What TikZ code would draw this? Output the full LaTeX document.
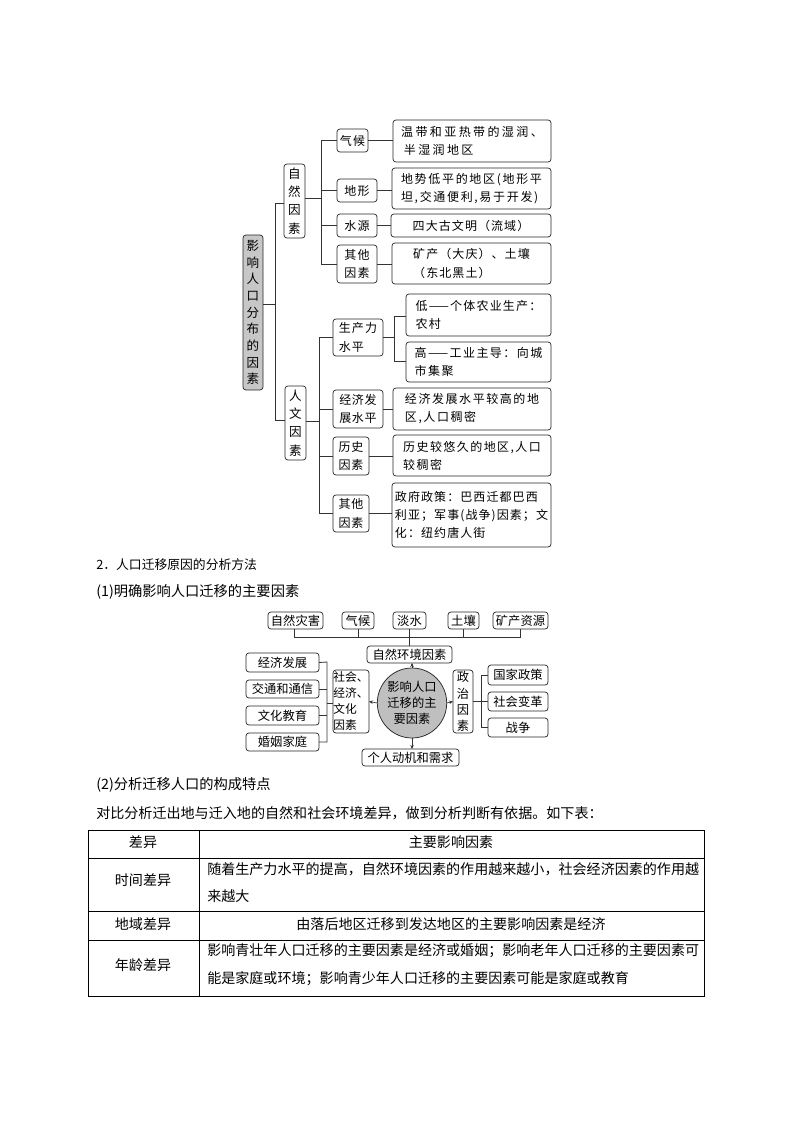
\documentclass[tikz,border=0pt]{standalone}
\usepackage{fontspec}
\setmainfont{Noto Sans CJK SC}
\usetikzlibrary{arrows.meta,shapes.geometric}
\newcommand\ls[1]{\addfontfeature{LetterSpace=#1}}
\newcommand\bx[7][]{%
  \pgfmathsetmacro\bw{(#5-#3)*0.75}\pgfmathsetmacro\bh{(#6-#4)*0.75}%
  \node[boxn,minimum width=\bw pt,minimum height=\bh pt,#1] (#2) at ({(#3+#5)/2},{(#4+#6)/2}) {#7};}
\tikzset{
  boxn/.style={draw=black!85,rounded corners=2.2pt,line width=.55pt,inner sep=0pt,outer sep=0pt,align=center,font=\fontsize{9}{14}\selectfont},
  vert/.style={font=\fontsize{9.4}{13.7}\selectfont},
  rootv/.style={font=\fontsize{9.4}{12.5}\selectfont},
  lft/.style={align=left},
  two/.style={font=\fontsize{9}{13.6}\selectfont},
  conn/.style={draw=black!80,line width=.6pt},
  arr/.style={draw=black!80,line width=.5pt,-{Stealth[length=3pt,width=2.6pt]}},
  plain/.style={anchor=west,inner sep=0pt,font=\fontsize{10.55}{14}\selectfont},
  cell/.style={inner sep=0pt,font=\fontsize{10.54}{14}\selectfont},
  sm/.style={font=\fontsize{9.2}{12.2}\selectfont},
  soctext/.style={font=\fontsize{8.8}{12}\selectfont,align=left},
  grid/.style={draw=black,line width=.6pt}
}
\begin{document}
\begin{tikzpicture}[x=0.75pt,y=-0.75pt]
\useasboundingbox (0,0) rectangle (794,1123);
% first tree
\bx[rootv,fill=black!22]{root}{243}{235}{263}{390}{影\\响\\人\\口\\分\\布\\的\\因\\素}
\bx[vert]{zr}{284}{164}{305}{238}{自\\然\\因\\素}
\bx[vert]{rw}{285}{386}{306}{460}{人\\文\\因\\素}
\bx{qh}{337}{129}{368}{152}{\ls{10}气候}
\bx{dx}{337}{179}{377}{202}{\ls{10}地形}
\bx{sy}{337}{214}{377}{237}{\ls{10}水源}
\bx[two]{qt}{337}{245}{377}{283}{\ls{10}其他\\\ls{10}因素}
\bx[two,lft]{qhb}{393}{120}{551}{162}{\ls{20}温带和亚热带的湿润、\\\ \ls{20}半湿润地区}
\bx[two,lft]{dxb}{392}{168}{551}{209}{\ls{14}地势低平的地区(地形平\\\ls{14}坦,交通便利,易于开发)}
\bx{syb}{391}{214}{551}{237}{\ls{9}四大古文明（流域）}
\bx[two,lft]{qtb}{392}{243}{551}{284}{\ls{9}矿产（大庆）、土壤\\\ls{9}（东北黑土）}
\bx[two,lft]{sc}{333}{319}{383}{356}{\ls{10}生产力\\\ls{10}水平}
\bx[two]{jj}{333}{390}{383}{428}{\ls{5}经济发\\\ls{5}展水平}
\bx[two]{ls}{333}{437}{369}{475}{\ls{5}历史\\\ls{5}因素}
\bx[two]{qt2}{333}{495}{369}{532}{\ls{5}其他\\\ls{5}因素}
\bx[two,lft]{di}{406}{294}{551}{336}{\ls{10}低——个体农业生产：\\\ls{10}农村}
\bx[two,lft]{ga}{406}{342}{551}{382}{\ls{12}高——工业主导：向城\\\ls{12}市集聚}
\bx[two,lft]{jjb}{393}{388}{551}{430}{\ls{13}经济发展水平较高的地\\\ls{13}区,人口稠密}
\bx[two,lft]{lsb}{393}{435}{551}{476}{\ls{12}历史较悠久的地区,人口\\\ls{12}较稠密}
\bx[two,lft]{qtb2}{392}{483}{551}{547}{\ls{9}政府政策：巴西迁都巴西\\\ls{9}利亚；军事(战争)因素；文\\\ls{9}化：纽约唐人街}
\coordinate (j1) at (275,304); \coordinate (j1a) at (275,203); \coordinate (j1b) at (275,420);
\draw[conn] (root.east |- j1) -- (j1);
\draw[conn] (zr.west |- j1a) -- (j1a) -- (j1b) -- (rw.west |- j1b);
\coordinate (j2) at (321,198);
\draw[conn] (zr.east |- j2) -- (j2);
\draw[conn] (qh.west) -- (321,140.5) -- (321,264) -- (qt.west);
\draw[conn] (dx.west) -- (321,190.5);
\draw[conn] (sy.west) -- (321,225.5);
\draw[conn] (qh.east) -- (qhb.west |- qh.east);
\draw[conn] (dx.east) -- (dxb.west |- dx.east);
\draw[conn] (sy.east) -- (syb.west);
\draw[conn] (qt.east) -- (qtb.west |- qt.east);
\coordinate (j3) at (319,421);
\draw[conn] (rw.east |- j3) -- (j3);
\draw[conn] (sc.west) -- (319,337.5) -- (319,513.5) -- (qt2.west);
\draw[conn] (jj.west) -- (319,409);
\draw[conn] (ls.west) -- (319,456);
\coordinate (j4) at (394,337.5);
\draw[conn] (sc.east) -- (j4);
\draw[conn] (di.west |- 0,316) -- (394,316) -- (394,361) -- (ga.west |- 0,361);
\draw[conn] (jj.east) -- (jjb.west |- jj.east);
\draw[conn] (ls.east) -- (lsb.west |- ls.east);
\draw[conn] (qt2.east) -- (qtb2.west |- qt2.east);
% headings
\node[plain,font=\fontsize{9.6}{14}\selectfont] (h1) at (96,565) {2．人口迁移原因的分析方法};
\node[plain,font=\fontsize{10.7}{14}\selectfont] (h2) at (96,592) {(1)明确影响人口迁移的主要因素};
% second diagram
\bx[sm]{a1}{268}{612}{323}{629}{自然灾害}
\bx[sm]{a2}{342}{612}{374}{629}{气候}
\bx[sm]{a3}{393}{612}{426}{629}{淡水}
\bx[sm]{a4}{448}{612}{479}{629}{土壤}
\bx[sm]{a5}{493}{612}{548}{629}{矿产资源}
\bx[sm]{nat}{367}{646}{452}{663}{自然环境因素}
\node[draw=black!85,fill=black!25,line width=.55pt,ellipse,minimum width=48pt,minimum height=52.5pt,inner sep=0pt,outer sep=0pt,align=center,sm] (cen) at (412,703) {影响人口\\迁移的主\\要因素};
\bx[soctext]{soc}{333}{670}{369}{733}{社会、\\经济、\\文化\\因素}
\bx[sm]{pol}{453}{670}{473}{733}{政\\治\\因\\素}
\bx[sm]{per}{362}{749}{459}{766}{个人动机和需求}
\bx[sm]{l1}{246}{653}{319}{672}{经济发展}
\bx[sm]{l2}{246}{680}{319}{698}{交通和通信}
\bx[sm]{l3}{246}{706}{319}{725}{文化教育}
\bx[sm]{l4}{246}{733}{319}{751}{婚姻家庭}
\bx[sm]{r1}{488}{665}{548}{685}{国家政策}
\bx[sm]{r2}{488}{692}{548}{711}{社会变革}
\bx[sm]{r3}{488}{718}{548}{737}{战争}
\coordinate (b1) at (294,637); \coordinate (b2) at (520,637); \coordinate (b3) at (410,637);
\draw[conn] (a1.south -| b1) -- (b1) -- (b2) -- (a5.south -| b2);
\draw[conn] (a2.south) -- (a2.south |- b1);
\draw[conn] (a4.south) -- (a4.south |- b1);
\draw[conn] (a3.south) -- (nat.north -| a3.south);
\draw[arr] (cen.north) -- (cen.north |- nat.south);
\draw[arr] (cen.west) -- (soc.east);
\draw[arr] (cen.east) -- (pol.west);
\draw[arr] (cen.south) -- (cen.south |- per.north);
\coordinate (c1) at (327,662); \coordinate (c2) at (327,742);
\draw[conn] (l1.east) -- (c1) -- (c2) -- (l4.east);
\draw[conn] (l2.east) -- (327,689);
\draw[conn] (l3.east) -- (327,715.5);
\draw[conn] (327,703) -- (soc.west |- 0,703);
\coordinate (d1) at (481,675); \coordinate (d2) at (481,727.5);
\draw[conn] (r1.west) -- (d1) -- (d2) -- (r3.west);
\draw[conn] (pol.east) -- (r2.west);
% lower text
\node[plain,font=\fontsize{10.7}{14}\selectfont] (h3) at (96,785) {(2)分析迁移人口的构成特点};
\node[plain] (h4) at (96,813) {对比分析迁出地与迁入地的自然和社会环境差异，做到分析判断有依据。如下表：};
% table
\draw[grid] (88,830) rectangle (704,996);
\draw[grid] (199,830) -- (199,996);
\draw[grid] (88,858) -- (704,858);
\draw[grid] (88,911) -- (704,911);
\draw[grid] (88,940) -- (704,940);
\node[cell] (t1) at (143,842) {差异};
\node[cell] (t2) at (451,842) {主要影响因素};
\node[cell] (t3) at (143,880) {时间差异};
\node[cell,anchor=west] (t4) at (207,869) {随着生产力水平的提高，自然环境因素的作用越来越小，社会经济因素的作用越};
\node[cell,anchor=west] (t5) at (207,896) {来越大};
\node[cell] (t6) at (143,924) {地域差异};
\node[cell] (t7) at (451,924) {由落后地区迁移到发达地区的主要影响因素是经济};
\node[cell] (t8) at (143,965) {年龄差异};
\node[cell,anchor=west] (t9) at (207,951) {影响青壮年人口迁移的主要因素是经济或婚姻；影响老年人口迁移的主要因素可};
\node[cell,anchor=west] (t10) at (207,979) {能是家庭或环境；影响青少年人口迁移的主要因素可能是家庭或教育};
\end{tikzpicture}
\end{document}
